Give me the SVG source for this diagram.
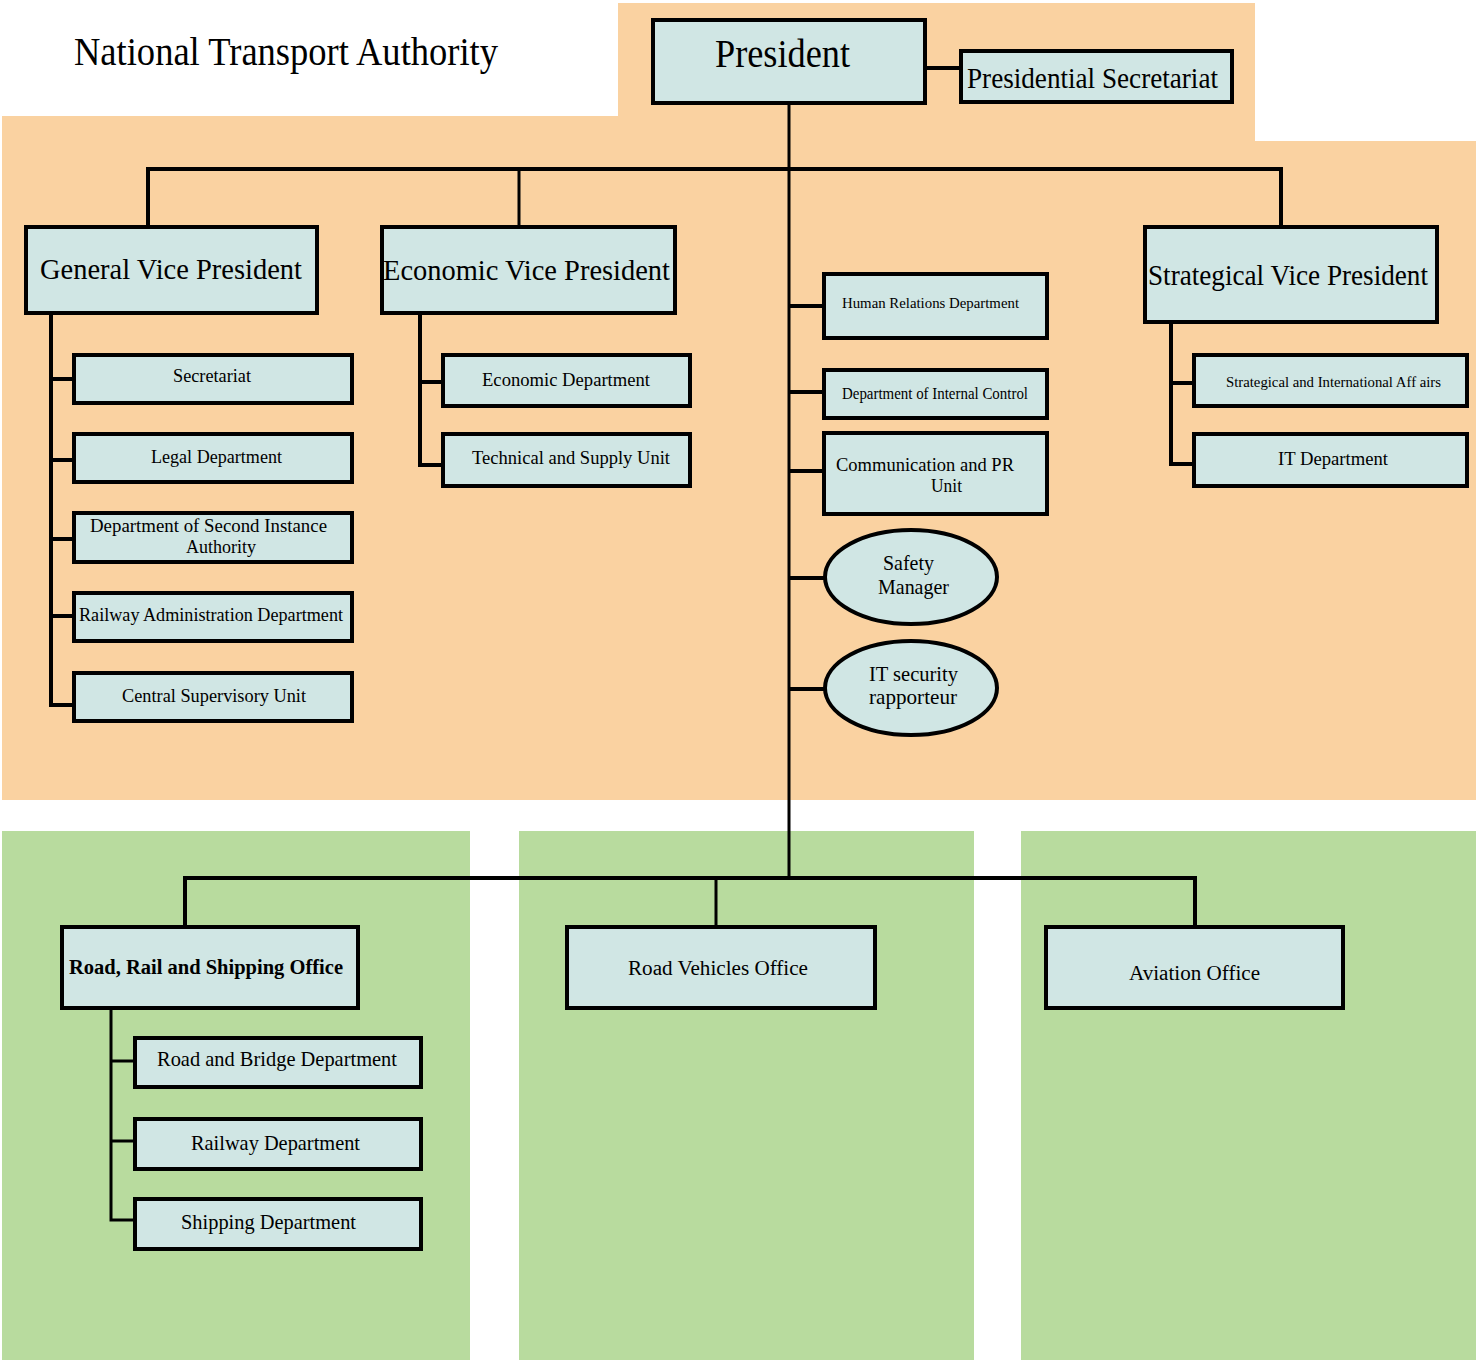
<svg xmlns="http://www.w3.org/2000/svg" width="1476" height="1362" viewBox="0 0 1476 1362">
<style>
.box{fill:#D0E6E4;stroke:#000;stroke-width:4}
.t{font-family:"Liberation Serif","Times New Roman",serif;fill:#000}
.c{stroke:#000;stroke-width:3;fill:none}
.ck{stroke:#000;stroke-width:4;fill:none}
</style>
<rect width="1476" height="1362" fill="#fff"/>
<polygon points="618,3 1255,3 1255,141 1476,141 1476,800 2,800 2,116 618,116" fill="#FAD2A1"/>
<rect x="2" y="831" width="468" height="529" fill="#B8DB9E"/>
<rect x="519" y="831" width="455" height="529" fill="#B8DB9E"/>
<rect x="1021" y="831" width="455" height="529" fill="#B8DB9E"/>
<text class="t" x="74" y="65" font-size="39" textLength="424" lengthAdjust="spacingAndGlyphs">National Transport Authority</text>
<g id="connectors">
<path class="ck" d="M925 68H961"/>
<path class="c" d="M789 100V880"/>
<path class="ck" d="M148 226V169H1281V226"/>
<path class="c" d="M519 169V226"/>
<path class="ck" d="M51 313V705H76M51 379H74M51 460H74M51 539H74M51 616H74"/>
<path class="ck" d="M420 313V465H443M420 382H443"/>
<path class="ck" d="M1171 322V464H1194M1171 383H1194"/>
<path class="ck" d="M789 306H824M789 392H824M789 471H824M789 578H825M789 689H825"/>
<path class="ck" d="M185 926V878H1195V926"/>
<path class="c" d="M716 878V926"/>
<path class="c" d="M111 1008V1220H135M111 1061H135M111 1141H135"/>
</g>
<g id="president"><rect class="box" x="653" y="20" width="272" height="83"/><text class="t" x="715" y="67" font-size="40" textLength="135" lengthAdjust="spacingAndGlyphs">President</text></g>
<g id="presidential-secretariat"><rect class="box" x="961" y="51" width="271" height="51"/><text class="t" x="967" y="88" font-size="29" textLength="251" lengthAdjust="spacingAndGlyphs">Presidential Secretariat</text></g>
<g id="general-vp"><rect class="box" x="26" y="227" width="291" height="86"/><text class="t" x="40" y="279" font-size="30" textLength="262" lengthAdjust="spacingAndGlyphs">General Vice President</text></g>
<g id="economic-vp"><rect class="box" x="382" y="227" width="293" height="86"/><text class="t" x="383" y="280" font-size="30" textLength="287" lengthAdjust="spacingAndGlyphs">Economic Vice President</text></g>
<g id="strategical-vp"><rect class="box" x="1145" y="227" width="292" height="95"/><text class="t" x="1148" y="285" font-size="30" textLength="280" lengthAdjust="spacingAndGlyphs">Strategical Vice President</text></g>
<g id="human-relations"><rect class="box" x="824" y="274" width="223" height="64"/><text class="t" x="842" y="308" font-size="15" textLength="177" lengthAdjust="spacingAndGlyphs">Human Relations Department</text></g>
<g id="internal-control"><rect class="box" x="824" y="370" width="223" height="48"/><text class="t" x="842" y="399" font-size="16" textLength="186" lengthAdjust="spacingAndGlyphs">Department of Internal Control</text></g>
<g id="communication-pr"><rect class="box" x="824" y="433" width="223" height="81"/><text class="t" x="836" y="471" font-size="19" textLength="178" lengthAdjust="spacingAndGlyphs">Communication and PR</text><text class="t" x="931" y="492" font-size="19" textLength="31" lengthAdjust="spacingAndGlyphs">Unit</text></g>
<g id="safety-manager"><ellipse class="box" cx="911" cy="577" rx="86" ry="47"/><text class="t" x="883" y="570" font-size="21" textLength="51" lengthAdjust="spacingAndGlyphs">Safety</text><text class="t" x="878" y="594" font-size="21" textLength="71" lengthAdjust="spacingAndGlyphs">Manager</text></g>
<g id="it-security"><ellipse class="box" cx="911" cy="688" rx="86" ry="47"/><text class="t" x="869" y="681" font-size="21" textLength="89" lengthAdjust="spacingAndGlyphs">IT security</text><text class="t" x="869" y="704" font-size="21" textLength="88" lengthAdjust="spacingAndGlyphs">rapporteur</text></g>
<g id="secretariat"><rect class="box" x="74" y="355" width="278" height="48"/><text class="t" x="173" y="382" font-size="18" textLength="78" lengthAdjust="spacingAndGlyphs">Secretariat</text></g>
<g id="legal"><rect class="box" x="74" y="434" width="278" height="48"/><text class="t" x="151" y="463" font-size="18" textLength="131" lengthAdjust="spacingAndGlyphs">Legal Department</text></g>
<g id="second-instance"><rect class="box" x="74" y="513" width="278" height="49"/><text class="t" x="90" y="532" font-size="18" textLength="237" lengthAdjust="spacingAndGlyphs">Department of Second Instance</text><text class="t" x="186" y="553" font-size="18" textLength="70" lengthAdjust="spacingAndGlyphs">Authority</text></g>
<g id="railway-admin"><rect class="box" x="74" y="593" width="278" height="48"/><text class="t" x="79" y="621" font-size="18" textLength="264" lengthAdjust="spacingAndGlyphs">Railway Administration Department</text></g>
<g id="central-supervisory"><rect class="box" x="74" y="673" width="278" height="48"/><text class="t" x="122" y="702" font-size="18" textLength="184" lengthAdjust="spacingAndGlyphs">Central Supervisory Unit</text></g>
<g id="economic-dept"><rect class="box" x="443" y="355" width="247" height="51"/><text class="t" x="482" y="386" font-size="18" textLength="168" lengthAdjust="spacingAndGlyphs">Economic Department</text></g>
<g id="technical-supply"><rect class="box" x="443" y="434" width="247" height="52"/><text class="t" x="472" y="464" font-size="18" textLength="198" lengthAdjust="spacingAndGlyphs">Technical and Supply Unit</text></g>
<g id="strategical-intl"><rect class="box" x="1194" y="355" width="273" height="51"/><text class="t" x="1226" y="387" font-size="15" textLength="215" lengthAdjust="spacingAndGlyphs">Strategical and International Aff airs</text></g>
<g id="it-dept"><rect class="box" x="1194" y="434" width="273" height="52"/><text class="t" x="1278" y="465" font-size="18" textLength="110" lengthAdjust="spacingAndGlyphs">IT Department</text></g>
<g id="road-rail-shipping"><rect class="box" x="62" y="927" width="296" height="81"/><text class="t" x="69" y="974" font-size="20" font-weight="bold" textLength="274" lengthAdjust="spacingAndGlyphs">Road, Rail and Shipping Office</text></g>
<g id="road-vehicles"><rect class="box" x="567" y="927" width="308" height="81"/><text class="t" x="628" y="975" font-size="20" textLength="180" lengthAdjust="spacingAndGlyphs">Road Vehicles Office</text></g>
<g id="aviation"><rect class="box" x="1046" y="927" width="297" height="81"/><text class="t" x="1129" y="980" font-size="20" textLength="131" lengthAdjust="spacingAndGlyphs">Aviation Office</text></g>
<g id="road-bridge"><rect class="box" x="135" y="1038" width="286" height="49"/><text class="t" x="157" y="1066" font-size="21" textLength="240" lengthAdjust="spacingAndGlyphs">Road and Bridge Department</text></g>
<g id="railway-dept"><rect class="box" x="135" y="1119" width="286" height="50"/><text class="t" x="191" y="1150" font-size="21" textLength="169" lengthAdjust="spacingAndGlyphs">Railway Department</text></g>
<g id="shipping-dept"><rect class="box" x="135" y="1199" width="286" height="50"/><text class="t" x="181" y="1229" font-size="21" textLength="175" lengthAdjust="spacingAndGlyphs">Shipping Department</text></g>
</svg>
